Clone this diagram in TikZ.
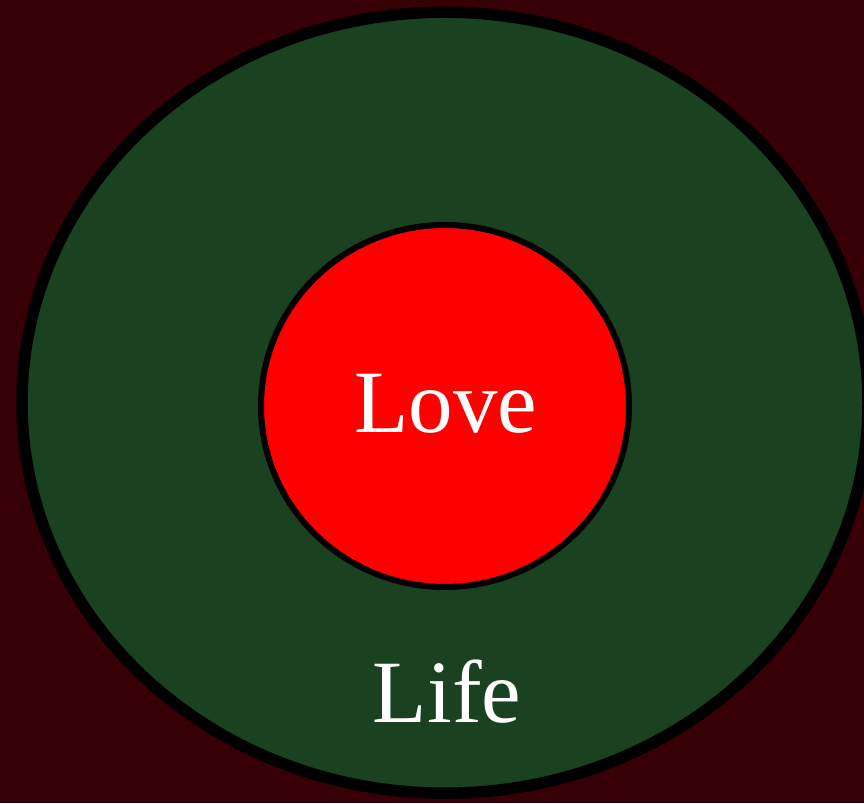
\documentclass[tikz,border=0pt]{standalone}
\usepackage{fontspec}
\setmainfont{Liberation Serif}
\usetikzlibrary{shapes.geometric}
\definecolor{bgred}{RGB}{54,0,6}
\definecolor{lifegreen}{RGB}{26,66,32}
\definecolor{lovered}{RGB}{255,0,0}
\tikzset{
  bigtext/.style={text=white, font=\fontsize{89}{96}\selectfont, inner sep=0pt, anchor=base},
}
\begin{document}
\begin{tikzpicture}[x=1pt,y=1pt]
\useasboundingbox (0,0) rectangle (864,803);
\clip (0,0) rectangle (864,803);
\fill[bgred] (0,0) rectangle (864,803);
\node[ellipse, draw=black, line width=11.5pt, fill=lifegreen, minimum width=846pt, minimum height=781pt, inner sep=0pt] (life) at (445,400.3) {};
\node[ellipse, draw=black, line width=6pt, fill=lovered, minimum width=368pt, minimum height=362pt, inner sep=0pt] (love) at (445,397) {};
\node[bigtext] (lovetext) at (446,370) {Love};
\node[bigtext] (lifetext) at (447,81) {Life};
\end{tikzpicture}
\end{document}
